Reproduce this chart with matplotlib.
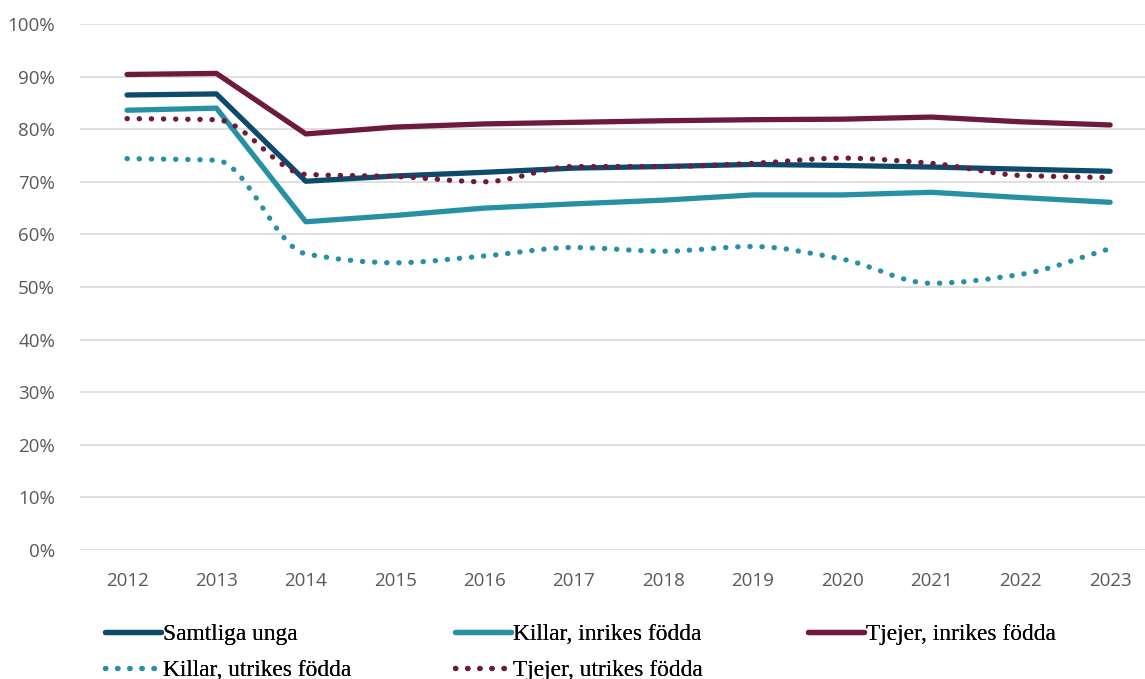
import matplotlib
matplotlib.use("Agg")
import matplotlib.pyplot as plt
from matplotlib.path import Path
from matplotlib.patches import PathPatch
from matplotlib.lines import Line2D
from matplotlib.ticker import PercentFormatter
import numpy as np

years = ["2012", "2013", "2014", "2015", "2016", "2017",
         "2018", "2019", "2020", "2021", "2022", "2023"]

samtliga       = [86.5, 86.7, 70.1, 71.1, 71.8, 72.6, 72.9, 73.3, 73.1, 72.8, 72.4, 72.0]
killar_inrikes = [83.6, 84.0, 62.4, 63.6, 65.0, 65.8, 66.5, 67.5, 67.5, 68.0, 67.0, 66.1]
tjejer_inrikes = [90.4, 90.6, 79.1, 80.4, 81.0, 81.3, 81.6, 81.8, 81.9, 82.3, 81.4, 80.8]
killar_utrikes = [74.4, 74.1, 56.3, 54.6, 55.9, 57.5, 56.8, 57.7, 55.3, 50.7, 52.4, 57.3]
tjejer_utrikes = [82.0, 81.8, 71.4, 71.0, 70.0, 72.9, 72.9, 73.5, 74.5, 73.5, 71.2, 70.8]

NAVY   = "#0E4A6C"
TEAL   = "#2691A5"
MAROON = "#6E1A3E"
GRID   = "#D9D9D9"
TICK   = "#595959"

LW = 3.8
DOT = (0, (0.05, 2.25))


def _smooth_path(xs, ys):
    """Monotone cubic bezier through the points (no overshoot)."""
    x = np.asarray(xs, float)
    y = np.asarray(ys, float)
    n = len(x)
    d = np.diff(y) / np.diff(x)
    m = np.zeros(n)
    m[0], m[-1] = d[0], d[-1]
    for i in range(1, n - 1):
        if d[i - 1] * d[i] > 0:
            m[i] = 2 / (1 / d[i - 1] + 1 / d[i])
    verts = [(x[0], y[0])]
    codes = [Path.MOVETO]
    for i in range(n - 1):
        h = (x[i + 1] - x[i]) / 3
        verts += [(x[i] + h, y[i] + m[i] * h),
                  (x[i + 1] - h, y[i + 1] - m[i + 1] * h),
                  (x[i + 1], y[i + 1])]
        codes += [Path.CURVE4] * 3
    return Path(verts, codes)


fig = plt.figure(figsize=(11.45, 6.79), dpi=100)
ax = fig.add_axes([0.0699, 0.19, 0.9301, 0.7747])

xs = np.arange(len(years))

ax.plot(xs, samtliga, color=NAVY, lw=LW, solid_capstyle="round", zorder=3)
ax.plot(xs, killar_inrikes, color=TEAL, lw=LW, solid_capstyle="round", zorder=3)
ax.plot(xs, tjejer_inrikes, color=MAROON, lw=LW, solid_capstyle="round", zorder=3)

for vals, col in [(killar_utrikes, TEAL), (tjejer_utrikes, MAROON)]:
    patch = PathPatch(_smooth_path(xs, vals), fill=False, edgecolor=col,
                      lw=LW, linestyle=DOT, capstyle="round", zorder=4)
    ax.add_patch(patch)

ax.set_xlim(-0.526, 11.39)
ax.set_ylim(0, 100)
ax.set_yticks(np.arange(0, 101, 10))
ax.yaxis.set_major_formatter(PercentFormatter(decimals=0))
ax.set_xticks(xs)
ax.set_xticklabels(years)
ax.grid(axis="y", color=GRID, lw=1.2)
ax.set_axisbelow(True)
for s in ax.spines.values():
    s.set_visible(False)
ax.tick_params(length=0, labelsize=13.5, labelcolor=TICK)
ax.tick_params(axis="y", pad=18)
ax.tick_params(axis="x", pad=16)
for lab in ax.get_xticklabels() + ax.get_yticklabels():
    lab.set_family("Open Sans")


def _h(col, dotted=False):
    if dotted:
        return Line2D([], [], color=col, lw=LW, linestyle=DOT, dash_capstyle="round")
    return Line2D([], [], color=col, lw=LW, solid_capstyle="round")


legend_cols = [
    (0.0917, [(_h(NAVY), "Samtliga unga"), (_h(TEAL, True), "Killar, utrikes födda")]),
    (0.397,  [(_h(TEAL), "Killar, inrikes födda"), (_h(MAROON, True), "Tjejer, utrikes födda")]),
    (0.7057, [(_h(MAROON), "Tjejer, inrikes födda")]),
]
for x0, items in legend_cols:
    leg = fig.legend([h for h, _ in items], [t for _, t in items], loc="upper left",
                     bbox_to_anchor=(x0, 0.081), frameon=False,
                     prop={"family": "Liberation Serif", "size": 16.8},
                     handlelength=2.4, handletextpad=0.1, labelspacing=0.6,
                     borderpad=0, borderaxespad=0)
    fig.add_artist(leg)

fig.savefig("out.png", dpi=100)
